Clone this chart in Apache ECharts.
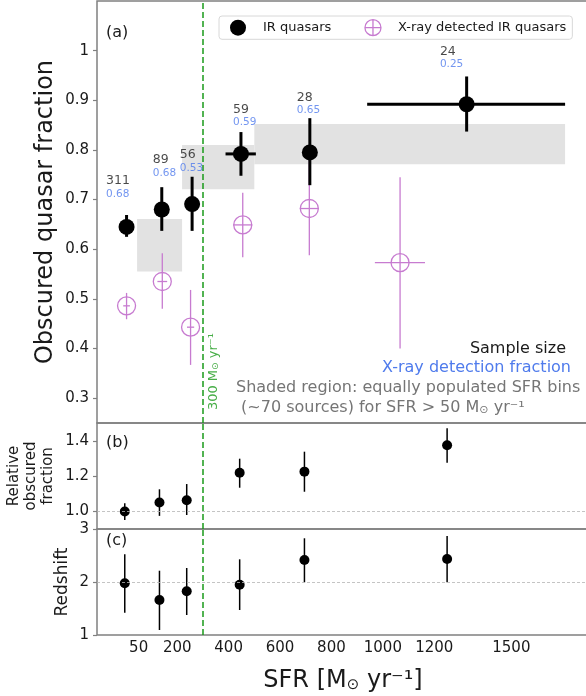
<!DOCTYPE html>
<html>
<head>
<meta charset="utf-8">
<script src="https://cdn.jsdelivr.net/npm/echarts@6/dist/echarts.min.js"></script>
<style>
html, body { margin: 0; padding: 0; background: #fff; }
#chart { width: 586px; height: 696px; }
</style>
</head>
<body>
<div id="chart"></div>
<script>
// tick labels
const sfrTicks = [50, 200, 400, 600, 800, 1000, 1200, 1500];
const fracTicks = [0.3, 0.4, 0.5, 0.6, 0.7, 0.8, 0.9, 1.0];
const relTicks = [1.0, 1.2, 1.4];
const zTicks = [1, 2, 3];

// (a) IR quasars
const irSfr = [3, 140, 258, 448, 716, 1326];
const irSfrLo = [3, 140, 258, 388, 716, 939];
const irSfrHi = [3, 140, 258, 506, 716, 1709];
const irFrac = [0.645, 0.680, 0.691, 0.792, 0.795, 0.892];
const irFracLo = [0.625, 0.637, 0.637, 0.748, 0.729, 0.837];
const irFracHi = [0.669, 0.725, 0.746, 0.836, 0.864, 0.948];

// (a) X-ray detected IR quasars
const xrSfr = [3, 142, 252, 455, 714, 1067];
const xrSfrLo = [-10, 123, 238, 418, 677, 969];
const xrSfrHi = [16, 161, 266, 492, 751, 1164];
const xrFrac = [0.486, 0.535, 0.443, 0.649, 0.682, 0.573];
const xrFracLo = [0.459, 0.480, 0.367, 0.584, 0.588, 0.400];
const xrFracHi = [0.512, 0.592, 0.518, 0.714, 0.780, 0.745];

// equally populated SFR bins (shaded)
const binSfrLo = [44, 219, 500];
const binSfrHi = [219, 500, 1709];
const binFracLo = [0.555, 0.721, 0.771];
const binFracHi = [0.661, 0.810, 0.852];

// sample size / x-ray detection fraction annotations
const sampleSize = [311, 89, 56, 59, 28, 24];
const xrayDetFrac = ['0.68', '0.68', '0.53', '0.59', '0.65', '0.25'];
const annSfr = [-77, 105, 210, 417, 665, 1222];
const annFrac = [0.724, 0.767, 0.777, 0.868, 0.893, 0.985];

// (b) relative obscured fraction, (c) redshift
const binSfr = [-4, 131, 237, 443, 695, 1250];
const relFrac = [1.000, 1.051, 1.064, 1.222, 1.228, 1.379];
const relLo = [0.952, 0.975, 0.980, 1.136, 1.113, 1.279];
const relHi = [1.047, 1.127, 1.157, 1.302, 1.342, 1.476];
const zMed = [1.975, 1.660, 1.825, 1.949, 2.415, 2.434];
const zLo = [1.421, 1.094, 1.377, 1.472, 1.994, 1.994];
const zHi = [2.523, 2.213, 2.264, 2.428, 2.825, 2.868];

const sfrCut = 300;
const relRef = 1.0;
const zRef = 2;

const font = 'DejaVu Sans';
const gray = '#808080';
const purple = '#c77bd0';
const blue = '#4f7bec';
const green = '#1a9a1a';
const ink = '#1a1a1a';

function errBars(lw, color) {
    return function (params, api) {
        let x = api.value(0), y = api.value(1);
        let c = api.coord([x, y]);
        let t = api.coord([x, api.value(3)]);
        let b = api.coord([x, api.value(2)]);
        let l = api.coord([api.value(4), y]);
        let r = api.coord([api.value(5), y]);
        let st = { stroke: color, lineWidth: lw };
        return {
            type: 'group',
            children: [
                { type: 'line', shape: { x1: c[0], y1: t[1], x2: c[0], y2: b[1] }, style: st },
                { type: 'line', shape: { x1: l[0], y1: c[1], x2: r[0], y2: c[1] }, style: st }
            ]
        };
    };
}

function rows(xs, ys, lo, hi, xlo, xhi) {
    return xs.map((x, i) => [x, ys[i], lo[i], hi[i], xlo ? xlo[i] : x, xhi ? xhi[i] : x]);
}

// small subscripted sun symbol
function sunRich(size) {
    return { s: { fontFamily: font, fontSize: size, verticalAlign: 'bottom' } };
}

function xAx(gi, last) {
    return {
        type: 'value', gridIndex: gi, min: -112, max: 1802,
        splitLine: { show: false }, axisLine: { show: false, onZero: false }, axisTick: { show: false },
        axisLabel: {
            show: last, customValues: sfrTicks, margin: 6, formatter: v => String(v),
            fontFamily: font, fontSize: 15, color: ink
        },
        name: last ? 'SFR [M{s|⊙} yr⁻¹]' : '',
        nameLocation: 'middle', nameGap: 34,
        nameTextStyle: { fontFamily: font, fontSize: 24, color: ink, rich: sunRich(15) }
    };
}

function yAx(gi, min, max, ticks, fmt, name, nameSize, gap) {
    return {
        type: 'value', gridIndex: gi, min: min, max: max,
        splitLine: { show: false }, axisLine: { show: false, onZero: false },
        axisTick: { show: true, customValues: ticks, length: 4, lineStyle: { color: gray, width: 1.2 } },
        axisLabel: { customValues: ticks, formatter: fmt, margin: 8, fontFamily: font, fontSize: 15, color: ink },
        name: name, nameLocation: 'middle', nameGap: gap, nameRotate: 90, nameMoveOverlap: false,
        nameTextStyle: { fontFamily: font, fontSize: nameSize, color: ink, lineHeight: nameSize + 2 }
    };
}

function cutLine() {
    return {
        silent: true, symbol: 'none', label: { show: false },
        lineStyle: { color: green, type: [6, 3], width: 1.5 },
        data: [{ xAxis: sfrCut }]
    };
}

let myEcharts = echarts.init(document.getElementById('chart'));
let gridBase = {
    left: 97, right: -3, show: true, borderColor: gray, borderWidth: 1.5,
    containLabel: false, outerBoundsMode: 'none'
};
let note = '16px DejaVu Sans';

let option = {
    animation: false,
    textStyle: { fontFamily: font },
    grid: [
        Object.assign({ top: 1, height: 422 }, gridBase),
        Object.assign({ top: 423, height: 106 }, gridBase),
        Object.assign({ top: 529, height: 106 }, gridBase)
    ],
    xAxis: [xAx(0, false), xAx(1, false), xAx(2, true)],
    yAxis: [
        yAx(0, 0.25, 1.10, fracTicks, v => (v === 1 ? '1' : v.toFixed(1)), 'Obscured quasar fraction', 24, 38),
        yAx(1, 0.9, 1.506, relTicks, v => v.toFixed(1), 'Relative\nobscured\nfraction', 15, 40),
        yAx(2, 1, 3, zTicks, v => String(v), 'Redshift', 17, 25)
    ],
    legend: {
        left: 219, top: 16, padding: [3, 6, 3, 11], itemGap: 33, itemWidth: 16, itemHeight: 16,
        backgroundColor: '#fff', borderColor: '#d8d8d8', borderWidth: 1, borderRadius: 3,
        selectedMode: false,
        textStyle: { fontFamily: font, fontSize: 13, color: ink, padding: [0, 0, 0, 12] },
        data: [
            { name: 'IR quasars', icon: 'circle', itemStyle: { color: '#000', opacity: 1 } },
            {
                name: 'X-ray detected IR quasars',
                icon: 'path://M10,0A10,10,0,1,1,-10,0A10,10,0,1,1,10,0ZM-10,0L10,0M0,-10L0,10',
                itemStyle: { color: 'rgba(0,0,0,0)', borderColor: purple, borderWidth: 1.3, opacity: 1 }
            }
        ]
    },
    graphic: [
        { type: 'text', left: 106, top: 25, style: { text: '(a)', font: note, fill: ink } },
        { type: 'text', left: 106, top: 435, style: { text: '(b)', font: note, fill: ink } },
        { type: 'text', left: 106, top: 533, style: { text: '(c)', font: note, fill: ink } },
        { type: 'text', x: 566, y: 349, style: { text: 'Sample size', font: note, fill: ink, align: 'right', verticalAlign: 'middle' } },
        { type: 'text', x: 571, y: 368, style: { text: 'X-ray detection fraction', font: note, fill: blue, align: 'right', verticalAlign: 'middle' } },
        { type: 'text', x: 236, y: 388, style: { text: 'Shaded region: equally populated SFR bins', font: note, fill: '#757575', verticalAlign: 'middle' } },
        {
            type: 'text', x: 236, y: 408,
            style: {
                text: ' (~70 sources) for SFR > 50 M{s|⊙} yr⁻¹', font: note, fill: '#757575', verticalAlign: 'middle',
                rich: { s: { fontFamily: font, fontSize: 11, fill: '#757575', verticalAlign: 'bottom' } }
            }
        }
    ],
    series: [
        {
            name: 'bins', type: 'custom', xAxisIndex: 0, yAxisIndex: 0, z: 1, silent: true,
            data: binSfrLo.map((x, i) => [x, binSfrHi[i], binFracLo[i], binFracHi[i]]),
            renderItem: function (params, api) {
                let p0 = api.coord([api.value(0), api.value(3)]);
                let p1 = api.coord([api.value(1), api.value(2)]);
                return {
                    type: 'rect',
                    shape: { x: p0[0], y: p0[1], width: p1[0] - p0[0], height: p1[1] - p0[1] },
                    style: { fill: '#e2e2e2' }
                };
            }
        },
        {
            name: 'xr err', type: 'custom', xAxisIndex: 0, yAxisIndex: 0, z: 2, silent: true,
            data: rows(xrSfr, xrFrac, xrFracLo, xrFracHi, xrSfrLo, xrSfrHi),
            renderItem: errBars(1.3, purple)
        },
        {
            name: 'ir err', type: 'custom', xAxisIndex: 0, yAxisIndex: 0, z: 3, silent: true,
            data: rows(irSfr, irFrac, irFracLo, irFracHi, irSfrLo, irSfrHi),
            renderItem: errBars(3, '#000')
        },
        {
            name: 'X-ray detected IR quasars', type: 'scatter', xAxisIndex: 0, yAxisIndex: 0, z: 4,
            symbol: 'circle', symbolSize: 18,
            itemStyle: { color: 'rgba(0,0,0,0)', borderColor: purple, borderWidth: 1.3, opacity: 1 },
            data: xrSfr.map((x, i) => [x, xrFrac[i]])
        },
        {
            name: 'IR quasars', type: 'scatter', xAxisIndex: 0, yAxisIndex: 0, z: 5,
            symbol: 'circle', symbolSize: 16, itemStyle: { color: '#000', opacity: 1 },
            data: irSfr.map((x, i) => [x, irFrac[i]]),
            markLine: cutLine()
        },
        {
            name: 'annotations', type: 'scatter', xAxisIndex: 0, yAxisIndex: 0, z: 6, silent: true,
            symbolSize: 0,
            data: annSfr.map((x, i) => [x, annFrac[i], sampleSize[i], xrayDetFrac[i]]),
            label: {
                show: true, position: [0, 0], align: 'left', verticalAlign: 'middle',
                formatter: p => '{n|' + p.value[2] + '}\n{f|' + p.value[3] + '}',
                rich: {
                    n: { fontFamily: font, fontSize: 12.5, color: ink, lineHeight: 13 },
                    f: { fontFamily: font, fontSize: 10.5, color: blue, lineHeight: 13 }
                }
            }
        },
        {
            name: 'cut label', type: 'scatter', xAxisIndex: 0, yAxisIndex: 0, z: 6, silent: true,
            symbolSize: 1, itemStyle: { color: 'rgba(0,0,0,0)' },
            data: [[sfrCut, 0.276]],
            label: {
                show: true, position: 'right', distance: 10, rotate: 90,
                formatter: '300 M{s|⊙} yr⁻¹',
                fontFamily: font, fontSize: 13, color: green,
                rich: { s: { fontFamily: font, fontSize: 9, color: green, verticalAlign: 'bottom' } }
            }
        },
        {
            name: 'rel err', type: 'custom', xAxisIndex: 1, yAxisIndex: 1, z: 3, silent: true,
            data: rows(binSfr, relFrac, relLo, relHi),
            renderItem: errBars(1.5, '#000')
        },
        {
            name: 'rel', type: 'scatter', xAxisIndex: 1, yAxisIndex: 1, z: 4,
            symbolSize: 10, itemStyle: { color: '#000', opacity: 1 },
            data: binSfr.map((x, i) => [x, relFrac[i]]),
            markLine: {
                silent: true, symbol: 'none', label: { show: false },
                data: [
                    { yAxis: relRef, lineStyle: { color: '#b5b5b5', type: [3, 2], width: 0.8 } },
                    { xAxis: sfrCut, lineStyle: { color: green, type: [6, 3], width: 1.5 } }
                ]
            }
        },
        {
            name: 'z err', type: 'custom', xAxisIndex: 2, yAxisIndex: 2, z: 3, silent: true,
            data: rows(binSfr, zMed, zLo, zHi),
            renderItem: errBars(1.5, '#000')
        },
        {
            name: 'z', type: 'scatter', xAxisIndex: 2, yAxisIndex: 2, z: 4,
            symbolSize: 10, itemStyle: { color: '#000', opacity: 1 },
            data: binSfr.map((x, i) => [x, zMed[i]]),
            markLine: {
                silent: true, symbol: 'none', label: { show: false },
                data: [
                    { yAxis: zRef, lineStyle: { color: '#b5b5b5', type: [3, 2], width: 0.8 } },
                    { xAxis: sfrCut, lineStyle: { color: green, type: [6, 3], width: 1.5 } }
                ]
            }
        }
    ]
};
myEcharts.setOption(option);
</script>
</body>
</html>
